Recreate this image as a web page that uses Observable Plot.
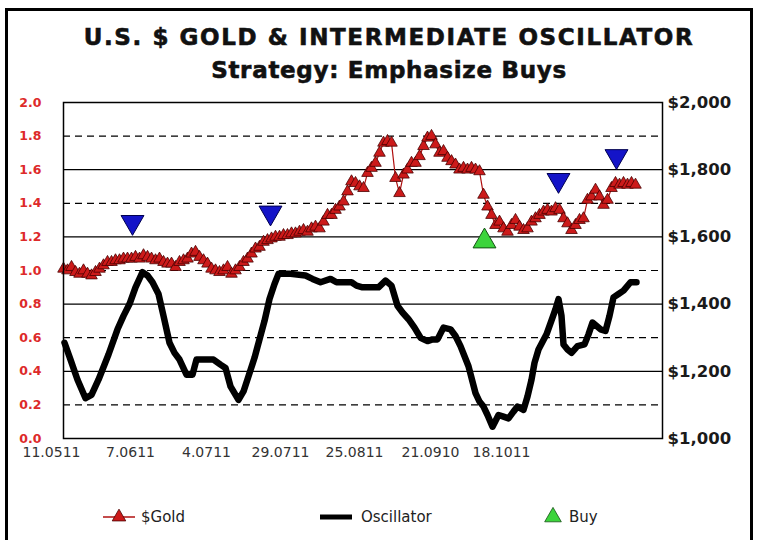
<!DOCTYPE html>
<html>
<head>
<meta charset="utf-8">
<script src="https://cdn.jsdelivr.net/npm/d3@7"></script>
<script src="https://cdn.jsdelivr.net/npm/@observablehq/plot@0.6"></script>
<style>
  html, body { margin: 0; padding: 0; background: #fff; }
  #page { position: relative; width: 759px; height: 540px; overflow: hidden; background: #fff; font-family: "DejaVu Sans", sans-serif; }
  #border { position: absolute; left: 5px; top: 8px; width: 748px; height: 600px; border: 3px solid #000; box-sizing: border-box; }
  .ttl { position: absolute; left: 0; width: 778px; text-align: center; font-weight: bold; color: #111; line-height: 1; white-space: nowrap; -webkit-text-stroke: 0.6px #111; }
  #title { top: 26px; font-size: 23px; letter-spacing: 1.6px; }
  #subtitle { top: 59px; font-size: 23px; letter-spacing: 0.7px; }
  #chart { position: absolute; left: 0; top: 90px; }
  #legend { position: absolute; left: 0; top: 497px; }
</style>
</head>
<body>
<div id="page">
  <div id="border"></div>
  <div id="title" class="ttl">U.S. $ GOLD &amp; INTERMEDIATE OSCILLATOR</div>
  <div id="subtitle" class="ttl">Strategy: Emphasize Buys</div>
  <div id="chart"></div>
  <svg id="legend" width="759" height="40"></svg>
</div>
<script>
// ---- data ----
// x labels (dates, dd.mmyy) and their trading-day positions
const xLabels = ["11.0511", "7.0611", "4.0711", "29.0711", "25.0811", "21.0910", "18.1011"];
const xLabelDays = [-3, 16.75, 35.75, 54.25, 72.75, 91.75, 109.5];

// left axis (oscillator) ticks and gridlines
const leftTicks = [0, 0.2, 0.4, 0.6, 0.8, 1.0, 1.2, 1.4, 1.6, 1.8, 2.0];
const solidGrid = [0.4, 0.8, 1.2, 1.6];
const dashedGrid = [0.2, 0.6, 1.0, 1.4, 1.8];
// right axis (gold $) ticks
const goldTicks = [1000, 1200, 1400, 1600, 1800, 2000];

// $Gold daily closes (one per trading day, starting day 0)
const goldPrice = [
  1505,1500,1510,1495,1490,1500,1490,1485,1495,1505,
  1515,1525,1525,1530,1530,1535,1535,1535,1540,1535,
  1545,1540,1535,1530,1535,1525,1520,1520,1510,1525,
  1530,1535,1550,1555,1540,1530,1520,1505,1500,1495,
  1500,1510,1490,1500,1510,1525,1535,1550,1565,1570,
  1585,1590,1595,1600,1600,1605,1605,1610,1610,1615,
  1620,1615,1625,1630,1625,1645,1665,1665,1680,1690,
  1705,1735,1765,1760,1750,1745,1790,1805,1820,1850,
  1880,1885,1880,1775,1730,1785,1800,1820,1820,1840,
  1870,1895,1900,1875,1850,1855,1835,1825,1815,1800,
  1805,1800,1805,1800,1795,1725,1690,1665,1635,1645,
  1625,1615,1635,1650,1630,1620,1625,1645,1655,1665,
  1675,1680,1675,1685,1680,1655,1640,1620,1635,1650,
  1655,1710,1720,1740,1720,1695,1710,1745,1760,1755,
  1760,1755,1760,1755
];

// Intermediate oscillator (left axis 0..2)
const oscDay = [
  0.25,1.75,3.5,5.5,7,8.75,11.25,13.5,15,16.5,
  18,19.75,21,22.25,23.75,25,26.5,27.75,29,30.75,
  32.25,33.25,35.5,37.5,39.25,40.5,41.75,43.75,45,46.25,
  47.75,49,50.25,51.5,52.75,53.75,56.75,60.5,62.25,64.25,
  66.75,68.25,72,73.25,74.75,78.75,80.5,82,83.5,84.75,
  86.25,87.75,89.25,91,92.25,93.5,95,96.75,98,99.25,
  101.25,103,104,105,106,107.25,108.75,110,111.25,112.5,
  113.5,115,116,117,117.75,118.75,120.75,122.25,123,123.75,
  124.5,125,126,127,128.5,130.25,131.25,132.25,134.25,135.5,
  136.5,137.5,138.75,140,141.75,143.25
];
const oscValue = [
  0.57,0.47,0.35,0.24,0.26,0.35,0.50,0.65,0.73,0.80,
  0.90,0.99,0.97,0.93,0.86,0.73,0.57,0.51,0.47,0.38,
  0.38,0.47,0.47,0.47,0.44,0.42,0.31,0.23,0.28,0.37,
  0.48,0.59,0.70,0.83,0.92,0.98,0.98,0.97,0.95,0.93,
  0.95,0.93,0.93,0.91,0.90,0.90,0.94,0.91,0.79,0.75,
  0.71,0.66,0.60,0.58,0.59,0.59,0.66,0.65,0.61,0.55,
  0.43,0.27,0.22,0.19,0.14,0.07,0.14,0.13,0.12,0.16,
  0.19,0.17,0.25,0.35,0.45,0.53,0.62,0.72,0.77,0.83,
  0.73,0.56,0.53,0.51,0.55,0.56,0.62,0.69,0.65,0.64,
  0.73,0.84,0.86,0.88,0.93,0.93
];

// signals (gold $ scale)
const sellDays = [17.25, 51.75, 123.75, 138.25];
const sellPrices = [1644, 1672, 1769, 1840];
const buyDays = [105.25];
const buyPrices = [1587];

// ---- build ----
const toY = p => (p - 1000) / 500;
const gold = goldPrice.map((p, i) => ({day: i, y: toY(p)}));
const osc = oscDay.map((d, i) => ({day: d, v: oscValue[i]}));
const sells = sellDays.map((d, i) => ({day: d, y: toY(sellPrices[i])}));
const buys = buyDays.map((d, i) => ({day: d, y: toY(buyPrices[i])}));

const chart = Plot.plot({
  width: 759,
  height: 375,
  marginLeft: 63,
  marginRight: 97,
  marginTop: 12,
  marginBottom: 27,
  x: {domain: [0, 149.75]},
  y: {domain: [0, 2]},
  style: {fontFamily: "DejaVu Sans", background: "transparent", overflow: "visible"},
  marks: [
    Plot.ruleY(solidGrid, {stroke: "#000", strokeWidth: 1.2}),
    Plot.ruleY(dashedGrid, {stroke: "#000", strokeWidth: 1.2, strokeDasharray: "7,5"}),
    Plot.line(osc, {x: "day", y: "v", stroke: "#000", strokeWidth: 6.5, strokeLinejoin: "round", strokeLinecap: "round"}),
    Plot.line(gold, {x: "day", y: "y", stroke: "#b01010", strokeWidth: 1.2}),
    Plot.dot(gold, {x: "day", y: "y", symbol: "triangle", r: 4.3, fill: "#cc1a1a", stroke: "#4a0000", strokeWidth: 0.8}),
    Plot.dot(sells, {x: "day", y: "y", symbol: "triangle", rotate: 180, r: 8.5, fill: "#1414c8", stroke: "#000050", strokeWidth: 1}),
    Plot.dot(buys, {x: "day", y: "y", symbol: "triangle", r: 8.5, fill: "#3cd43c", stroke: "#145014", strokeWidth: 1}),
    Plot.axisY({anchor: "left", label: null, ticks: leftTicks, tickSize: 0, tickPadding: 22, tickFormat: d3.format(".1f"), fill: "#dd2a2a", fontSize: 12.5, fontWeight: "bold"}),
    Plot.axisY({anchor: "right", label: null, ticks: goldTicks.map(toY), tickSize: 0, tickPadding: 5,
      tickFormat: d => "$" + d3.format(",")(Math.round(1000 + 500 * d)), fill: "#1a1a1a", fontSize: 16.5, fontWeight: "bold"}),
    Plot.axisX({label: null, ticks: xLabelDays, tickSize: 0, tickPadding: 9,
      tickFormat: d => xLabels[xLabelDays.indexOf(d)], fill: "#333", fontSize: 14}),
    Plot.frame({stroke: "#000", strokeWidth: 1.5})
  ]
});
document.getElementById("chart").appendChild(chart);

// ---- legend ----
const lg = d3.select("#legend");
const cy = 20;
const tri = d3.symbol(d3.symbolTriangle, 80)();
const triBig = d3.symbol(d3.symbolTriangle, 120)();
lg.append("line").attr("x1", 103).attr("x2", 135).attr("y1", cy).attr("y2", cy).attr("stroke", "#b01010").attr("stroke-width", 1.5);
lg.append("path").attr("d", tri).attr("transform", `translate(119,${cy})`).attr("fill", "#cc1a1a").attr("stroke", "#4a0000").attr("stroke-width", 0.8);
lg.append("text").attr("x", 141).attr("y", cy + 5).text("$Gold");
lg.append("line").attr("x1", 320).attr("x2", 352).attr("y1", cy).attr("y2", cy).attr("stroke", "#000").attr("stroke-width", 5);
lg.append("text").attr("x", 361).attr("y", cy + 5).text("Oscillator");
lg.append("path").attr("d", triBig).attr("transform", `translate(553,${cy})`).attr("fill", "#3cd43c").attr("stroke", "#145014").attr("stroke-width", 0.8);
lg.append("text").attr("x", 569).attr("y", cy + 5).text("Buy");
lg.selectAll("text").attr("font-family", "DejaVu Sans").attr("font-size", 15).attr("fill", "#222");
</script>
</body>
</html>
